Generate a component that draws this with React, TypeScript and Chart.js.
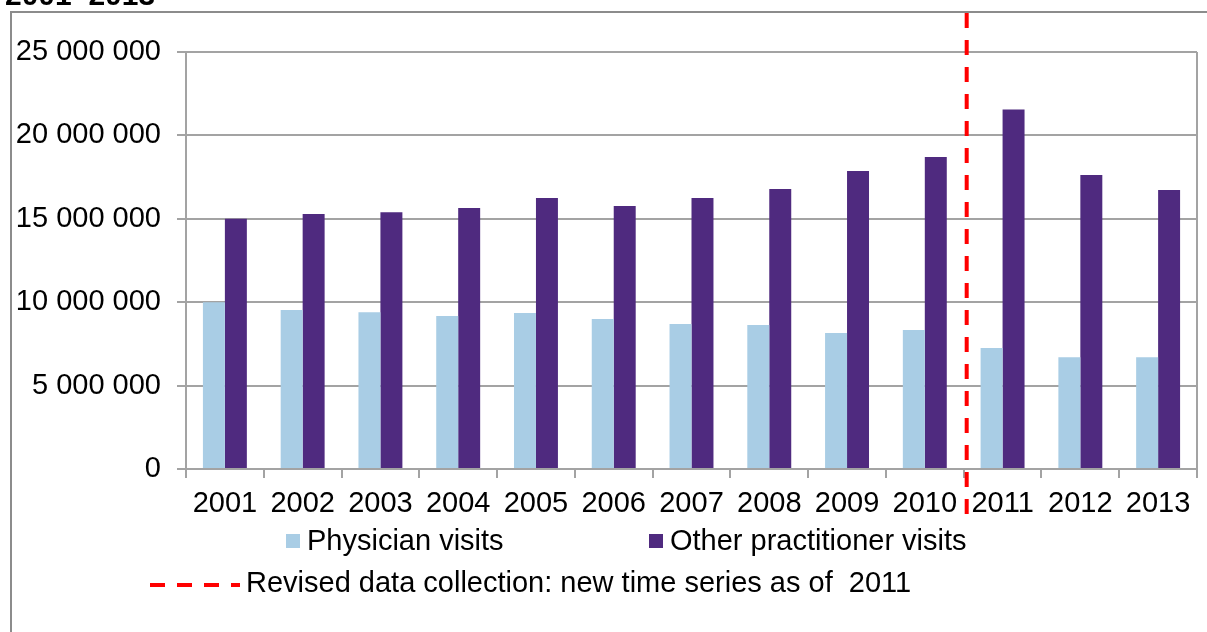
import React, { useEffect, useRef } from "react";
import { Chart, registerables } from "chart.js";

Chart.register(...registerables);

const years = ["2001", "2002", "2003", "2004", "2005", "2006", "2007", "2008", "2009", "2010", "2011", "2012", "2013"];
const physicianVisits = [10000000, 9530000, 9390000, 9170000, 9350000, 9000000, 8700000, 8630000, 8150000, 8330000, 7250000, 6700000, 6700000];
const otherPractitionerVisits = [15000000, 15290000, 15400000, 15650000, 16250000, 15770000, 16250000, 16790000, 17870000, 18700000, 21560000, 17630000, 16730000];
const seriesLabels = ["Physician visits", "Other practitioner visits"];
const revisionNote = "Revised data collection: new time series as of  2011";
const revisionYear = "2011";
const titleText = "2001\u20132013";

const W = 1207;
const H = 632;
const FONT = "'Liberation Sans', Arial, sans-serif";
const FS = 29;
const LIGHT = "#a9cde5";
const DARK = "#4f2a7f";
const GRID = "#a3a3a3";

const fmt = (v: number) => String(Math.round(v)).replace(/\B(?=(\d{3})+(?!\d))/g, " ");

const decorPlugin = {
  id: "decor",
  beforeDraw(chart: any) {
    const ctx = chart.ctx;
    ctx.save();
    ctx.fillStyle = "#ffffff";
    ctx.fillRect(0, 0, W, H);
    // title (cut off at top)
    ctx.fillStyle = "#000";
    ctx.font = `bold 30px ${FONT}`;
    ctx.textBaseline = "alphabetic";
    ctx.textAlign = "left";
    ctx.fillText(titleText, 5, 5);
    // outer frame
    ctx.strokeStyle = "#8c8c8c";
    ctx.lineWidth = 2;
    ctx.beginPath();
    ctx.moveTo(11, H);
    ctx.lineTo(11, 12);
    ctx.lineTo(W, 12);
    ctx.stroke();
    ctx.restore();
  },
  afterDraw(chart: any) {
    const ctx = chart.ctx;
    const area = chart.chartArea;
    const xs = chart.scales.x;
    ctx.save();
    // plot right border
    ctx.strokeStyle = GRID;
    ctx.lineWidth = 2;
    ctx.beginPath();
    ctx.moveTo(area.right, area.top);
    ctx.lineTo(area.right, area.bottom);
    ctx.stroke();
    // revision line
    const idx = years.indexOf(revisionYear);
    const xLine = (xs.getPixelForValue(idx - 1) + xs.getPixelForValue(idx)) / 2 + 3;
    ctx.strokeStyle = "#ff0000";
    ctx.lineWidth = 4;
    ctx.setLineDash([15, 12]);
    ctx.beginPath();
    ctx.moveTo(xLine, 13);
    ctx.lineTo(xLine, 516);
    ctx.stroke();
    ctx.setLineDash([]);
    // legend
    ctx.font = `${FS}px ${FONT}`;
    ctx.textBaseline = "middle";
    ctx.textAlign = "left";
    const ds = chart.data.datasets;
    const row1 = [
      { x: 286, label: ds[0].label, color: ds[0].backgroundColor },
      { x: 649, label: ds[1].label, color: ds[1].backgroundColor },
    ];
    row1.forEach((it) => {
      ctx.fillStyle = it.color;
      ctx.fillRect(it.x, 534, 14, 14);
      ctx.fillStyle = "#000";
      ctx.fillText(it.label, it.x + 21, 542);
    });
    ctx.strokeStyle = "#ff0000";
    ctx.lineWidth = 4;
    ctx.setLineDash([15, 12]);
    ctx.beginPath();
    ctx.moveTo(150, 585);
    ctx.lineTo(240, 585);
    ctx.stroke();
    ctx.setLineDash([]);
    ctx.fillStyle = "#000";
    ctx.fillText(revisionNote, 246, 584);
    ctx.restore();
  },
};

export default function App() {
  const ref = useRef<HTMLCanvasElement | null>(null);
  useEffect(() => {
    if (!ref.current) return;
    const chart = new Chart(ref.current, {
      type: "bar",
      data: {
        labels: years,
        datasets: [
          { label: seriesLabels[0], data: physicianVisits, backgroundColor: LIGHT, borderWidth: 0 },
          { label: seriesLabels[1], data: otherPractitionerVisits, backgroundColor: DARK, borderWidth: 0 },
        ],
      },
      options: {
        responsive: false,
        animation: false,
        devicePixelRatio: 1,
        layout: { padding: { left: 0, top: 52, right: 10, bottom: 0 } },
        plugins: { legend: { display: false }, title: { display: false }, tooltip: { enabled: false } },
        datasets: { bar: { categoryPercentage: 0.565, barPercentage: 1 } },
        scales: {
          x: {
            grid: { display: true, drawOnChartArea: false, drawTicks: true, tickLength: 9, color: GRID, lineWidth: 2, offset: true },
            border: { display: true, color: GRID, width: 2 },
            ticks: { color: "#000", font: { family: FONT, size: FS }, padding: 9, maxRotation: 0, autoSkip: false },
            afterFit: (s: any) => { s.height = 163; },
          },
          y: {
            min: 0,
            max: 25000000,
            grid: { display: true, drawTicks: true, tickLength: 9, color: GRID, lineWidth: 2 },
            border: { display: true, color: GRID, width: 2 },
            ticks: { stepSize: 5000000, color: "#000", font: { family: FONT, size: FS }, padding: 16, callback: (v: any) => fmt(Number(v)) },
            afterFit: (s: any) => { s.width = 186; },
          },
        },
      },
      plugins: [decorPlugin],
    });
    return () => chart.destroy();
  }, []);
  return (
    <div style={{ position: "fixed", left: 0, top: 0, width: W, height: H, background: "#fff" }}>
      <canvas ref={ref} width={W} height={H} style={{ width: W, height: H, display: "block" }} />
    </div>
  );
}
